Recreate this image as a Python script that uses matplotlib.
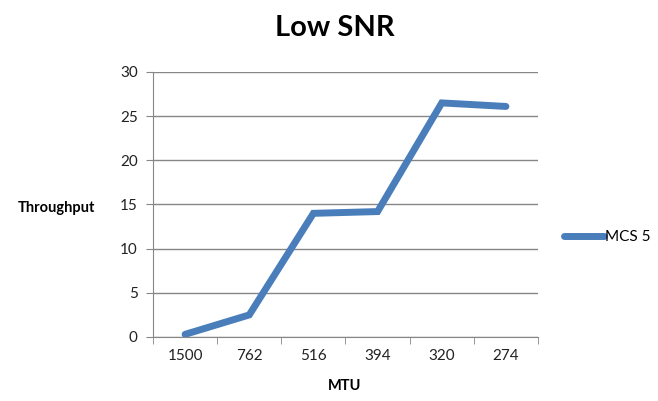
import matplotlib.pyplot as plt

mtu_labels = ['1500', '762', '516', '394', '320', '274']
throughput = [0.3, 2.5, 14.0, 14.2, 26.5, 26.1]
series_name = 'MCS 5'

plt.rcParams['font.family'] = ['Lato', 'DejaVu Sans']

fig = plt.figure(figsize=(6.58, 4.01), dpi=100)
ax = fig.add_axes([153 / 658, 1 - 337 / 401, (538 - 153) / 658, (337 - 72) / 401])

x = list(range(len(mtu_labels)))
ax.plot(x, throughput, color='#4a7ebb', linewidth=5, solid_capstyle='round',
        solid_joinstyle='miter', label=series_name)

ax.set_xlim(-0.5, len(mtu_labels) - 0.5)
ax.set_ylim(0, 30)
ax.set_yticks(range(0, 31, 5))
ax.set_xticks(x)
ax.set_xticklabels(mtu_labels)
ax.set_xticks([i - 0.5 for i in range(len(mtu_labels) + 1)], minor=True)
ax.tick_params(axis='x', which='major', length=0, pad=9, labelsize=11, colors='#222222')
ax.tick_params(axis='x', which='minor', length=5, color='#868686', direction='out')
ax.tick_params(axis='y', length=5, color='#868686', labelsize=11, colors='#222222', pad=6)
for lbl in ax.get_yticklabels() + ax.get_xticklabels():
    lbl.set_color('#222222')

ax.grid(axis='y', color='#868686', linewidth=1)
ax.set_axisbelow(True)
for side in ['top', 'right']:
    ax.spines[side].set_visible(False)
for side in ['left', 'bottom']:
    ax.spines[side].set_color('#868686')

fig.text(335 / 658, 1 - 28 / 401, 'Low SNR', ha='center', va='center',
         fontsize=21, fontweight='bold')
fig.text(56 / 658, 1 - 208 / 401, 'Throughput', ha='center', va='center',
         fontsize=10.5, fontweight='bold')
fig.text(345 / 658, 1 - 386 / 401, 'MTU', ha='center', va='center',
         fontsize=10.5, fontweight='bold')

fig.legend(loc='center left', bbox_to_anchor=(558 / 658, 1 - 237 / 401), frameon=False,
           fontsize=11, handlelength=2.6, handletextpad=0.1, borderaxespad=0)

fig.savefig('out.png', dpi=100)
